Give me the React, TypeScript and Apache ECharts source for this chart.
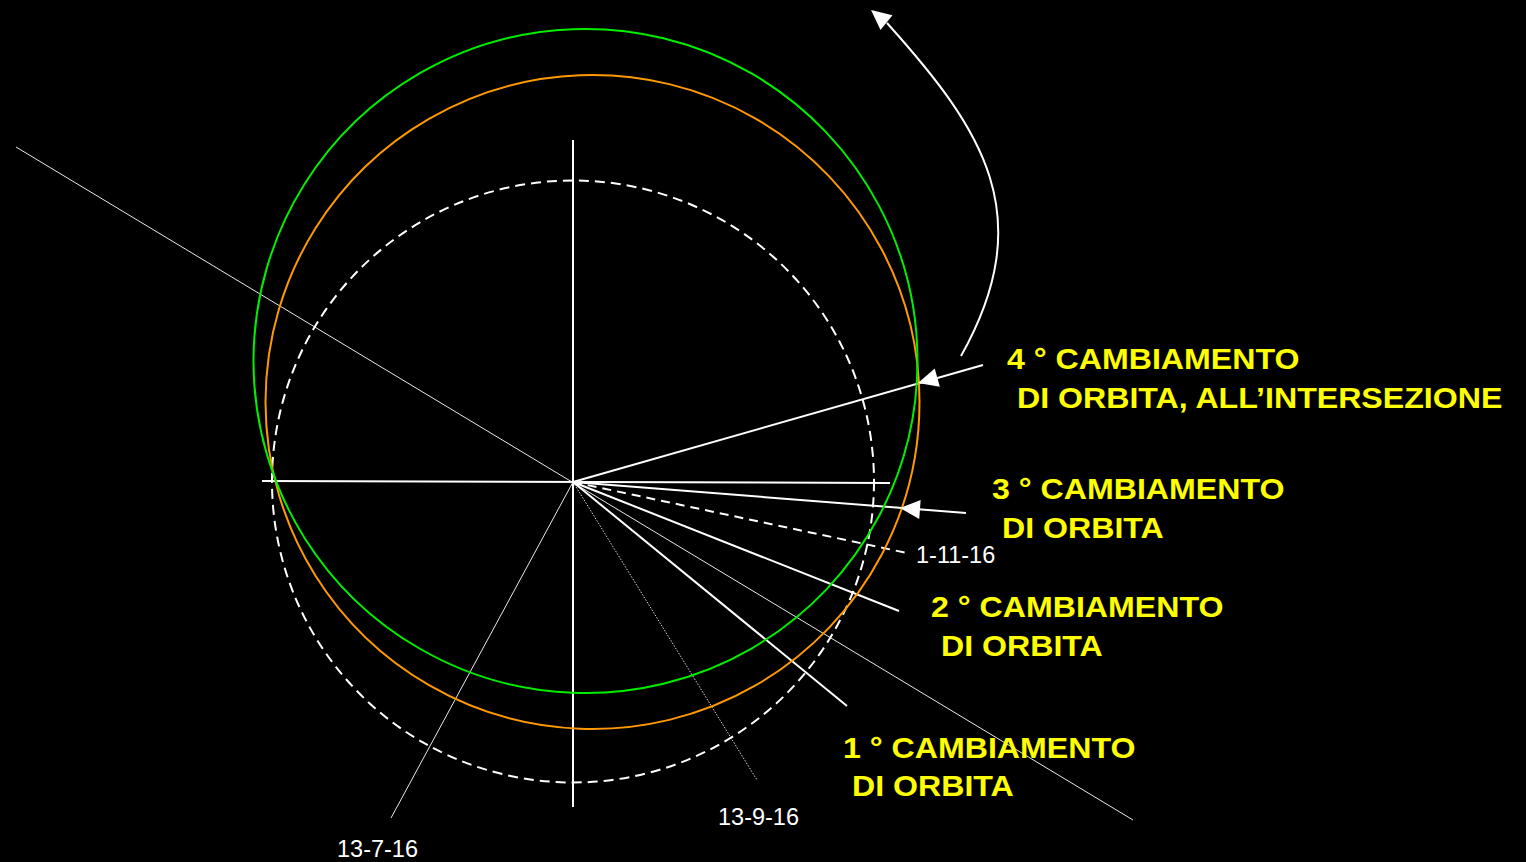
import React, { useEffect, useRef } from "react";
import * as echarts from "echarts";

// Diagram coordinates: origin at the common centre, x to the right, y upward (1 unit = 1 px)
const X_RANGE = [-573, 953];
const Y_RANGE = [-380, 482];

// circles: [centreX, centreY, radius]
const dashedOrbit = [0, 0.5, 301];
const greenOrbit = [12.5, 121, 332];
const orangeOrbit = [19.5, 80, 327];

// straight lines: [[x1, y1], [x2, y2]]
const verticalLine = [[0, 342], [0, -325]];
const horizontalLine = [[-311, 1], [317, -1]];
const longDiagonal = [[-557, 335], [560, -338]];
const line13_7_16 = [[0, 0], [-182, -336]];
const line13_9_16 = [[0, 0], [184, -298]];
const line1stChange = [[0, 0], [274, -224]];
const line2ndChange = [[0, 0], [326, -129]];
const line1_11_16 = [[0, 0], [334, -71]];
const line3rdChange = [[0, 0], [393, -31]];
const line4thChange = [[0, 0], [410, 117]];

// curved rotation arrow: cubic curve [start, control 1, control 2, end]
const rotationArc = [[388, 126], [467, 267], [410, 352], [314, 459]];

// arrowheads: [tipX, tipY, towardsX, towardsY]
const arrowHeads = [
  [327, -26, 393, -31],
  [345, 99, 410, 117],
  [298, 472, 314, 459],
];

// labels
const yellowLabels = [
  "4 ° CAMBIAMENTO",
  "DI ORBITA, ALL’INTERSEZIONE",
  "3 ° CAMBIAMENTO",
  "DI ORBITA",
  "2 ° CAMBIAMENTO",
  "DI ORBITA",
  "1 ° CAMBIAMENTO",
  "DI ORBITA",
];
const yellowLabelPos = [
  [434, 123], [444, 84], [419, -7], [429, -46],
  [358, -125], [368, -164], [270, -265.5], [279, -303.6],
];
const dateLabels = ["1-11-16", "13-9-16", "13-7-16"];
const dateLabelPos = [[343, -72.7], [145, -335], [-236, -366.5]];

const FONT = '"Liberation Sans", Arial, Helvetica, sans-serif';

function segment(name: string, data: number[][], width: number, type: any = "solid", color = "#ffffff") {
  return {
    type: "line",
    name,
    data,
    symbol: "none",
    showSymbol: false,
    silent: true,
    z: 2,
    lineStyle: { color, width, type, cap: "butt" },
  };
}

function circle(name: string, c: number[], color: string, dash?: number[]) {
  return {
    type: "custom",
    name,
    coordinateSystem: "cartesian2d",
    data: [c],
    clip: false,
    silent: true,
    z: 3,
    renderItem: (_params: any, api: any) => {
      const p = api.coord([api.value(0), api.value(1)]);
      const r = api.size([api.value(2), 0])[0];
      return {
        type: "circle",
        shape: { cx: p[0], cy: p[1], r },
        style: { fill: "none", stroke: color, lineWidth: 2, lineDash: dash },
      };
    },
  };
}

function labels(name: string, texts: string[], pos: number[][], color: string, font: string, scaleX: number) {
  return {
    type: "custom",
    name,
    coordinateSystem: "cartesian2d",
    data: pos,
    clip: false,
    silent: true,
    z: 10,
    renderItem: (params: any, api: any) => {
      const p = api.coord([api.value(0), api.value(1)]);
      return {
        type: "text",
        x: p[0],
        y: p[1],
        scaleX,
        style: {
          text: texts[params.dataIndex],
          fill: color,
          font,
          align: "left",
          verticalAlign: "middle",
        },
      };
    },
  };
}

export default function App() {
  const ref = useRef<HTMLDivElement>(null);
  useEffect(() => {
    if (!ref.current) return;
    const chart = echarts.init(ref.current, undefined, { renderer: "svg" });
    chart.setOption({
      animation: false,
      backgroundColor: "#000000",
      grid: { left: 0, right: 0, top: 0, bottom: 0, containLabel: false },
      xAxis: { type: "value", min: X_RANGE[0], max: X_RANGE[1], show: false, splitLine: { show: false } },
      yAxis: { type: "value", min: Y_RANGE[0], max: Y_RANGE[1], show: false, splitLine: { show: false } },
      series: [
        circle("dashedOrbit", dashedOrbit, "#ffffff", [10, 6]),
        circle("orangeOrbit", orangeOrbit, "#ff9900"),
        circle("greenOrbit", greenOrbit, "#00ee00"),
        segment("vertical", verticalLine, 2),
        segment("horizontal", horizontalLine, 2),
        segment("longDiagonal", longDiagonal, 1, "solid", "#e8e8e8"),
        segment("13-7-16", line13_7_16, 1, "solid", "#e8e8e8"),
        segment("13-9-16", line13_9_16, 1, [1.5, 1.5], "#dddddd"),
        segment("1st", line1stChange, 2),
        segment("2nd", line2ndChange, 2),
        segment("1-11-16", line1_11_16, 2, [9, 6]),
        segment("3rd", line3rdChange, 2),
        segment("4th", line4thChange, 2),
        {
          type: "custom",
          name: "rotation",
          coordinateSystem: "cartesian2d",
          data: [rotationArc.flat()],
          clip: false,
          silent: true,
          z: 2,
          renderItem: (_params: any, api: any) => {
            const p0 = api.coord([api.value(0), api.value(1)]);
            const c1 = api.coord([api.value(2), api.value(3)]);
            const c2 = api.coord([api.value(4), api.value(5)]);
            const p3 = api.coord([api.value(6), api.value(7)]);
            return {
              type: "bezierCurve",
              shape: {
                x1: p0[0], y1: p0[1],
                cpx1: c1[0], cpy1: c1[1],
                cpx2: c2[0], cpy2: c2[1],
                x2: p3[0], y2: p3[1],
              },
              style: { fill: "none", stroke: "#ffffff", lineWidth: 2 },
            };
          },
        },
        {
          type: "custom",
          name: "arrowHeads",
          coordinateSystem: "cartesian2d",
          data: arrowHeads,
          clip: false,
          silent: true,
          z: 5,
          renderItem: (_params: any, api: any) => {
            const tip = api.coord([api.value(0), api.value(1)]);
            const from = api.coord([api.value(2), api.value(3)]);
            const dx = from[0] - tip[0];
            const dy = from[1] - tip[1];
            const len = Math.sqrt(dx * dx + dy * dy) || 1;
            const ux = dx / len;
            const uy = dy / len;
            const L = 20;
            const w = 9.5;
            const bx = tip[0] + ux * L;
            const by = tip[1] + uy * L;
            return {
              type: "polygon",
              shape: { points: [tip, [bx - uy * w, by + ux * w], [bx + uy * w, by - ux * w]] },
              style: { fill: "#ffffff" },
            };
          },
        },
        labels("yellowLabels", yellowLabels, yellowLabelPos, "#ffff00", `bold 29px ${FONT}`, 1.108),
        labels("dateLabels", dateLabels, dateLabelPos, "#ffffff", `23.5px ${FONT}`, 1),
      ],
    });
    return () => chart.dispose();
  }, []);
  return (
    <div
      ref={ref}
      style={{ position: "fixed", left: 0, top: 0, width: 1526, height: 862, background: "#000" }}
    />
  );
}
